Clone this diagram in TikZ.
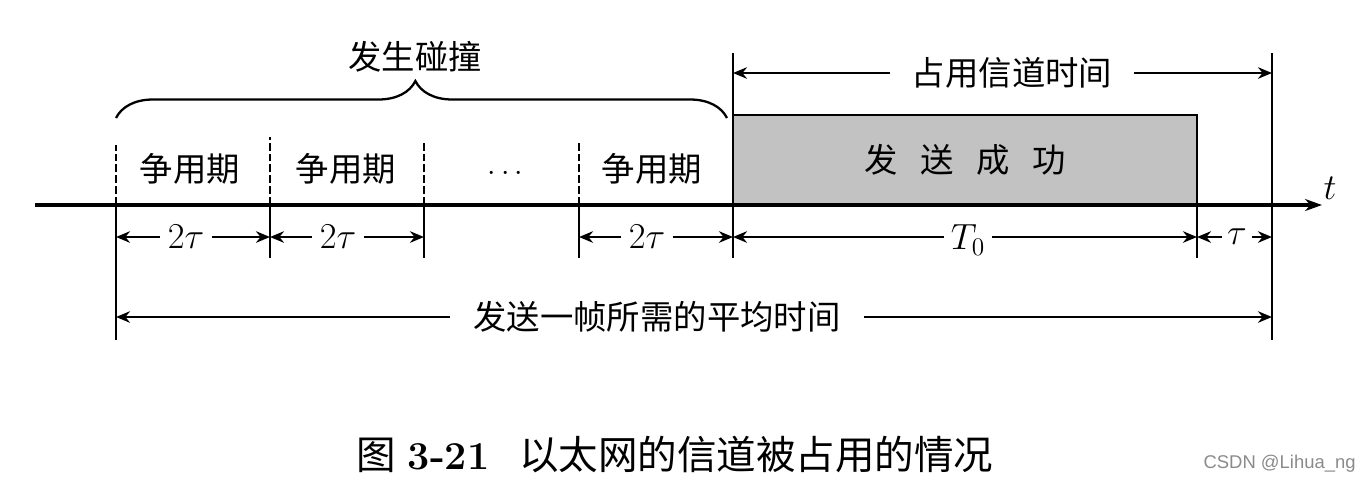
\documentclass[tikz,border=0pt]{standalone}
\usepackage{amsmath,amssymb}
\usepackage{xcolor}
\usepackage{fontspec}
\usepackage{tikz}
\usetikzlibrary{calc,arrows.meta,positioning,decorations.pathreplacing}
\newfontfamily\cjk{Noto Sans CJK SC}
\newfontfamily\wmfont{Liberation Sans}
\definecolor{boxgray}{HTML}{C2C2C2}
\definecolor{markgray}{HTML}{8A8A8A}
\tikzset{
  ar/.style={-{Stealth[length=2.8mm,width=2.3mm]},line width=1.6pt},
  axisline/.style={-{Stealth[length=3.4mm,width=2.4mm]},line width=2pt},
  tickline/.style={line width=1.2pt},
  dashtick/.style={line width=1.2pt,dash pattern=on 4.5pt off 1.7pt},
  cn/.style={font=\cjk\fontsize{19}{22}\selectfont,inner sep=0pt},
  dimlbl/.style={font=\fontsize{20}{23}\selectfont,inner ysep=0pt,inner xsep=4pt},
  box/.style={draw,line width=1.2pt,fill=boxgray,minimum width=9.28cm,minimum height=1.8cm,inner sep=0pt,font=\cjk\fontsize{19}{22}\selectfont}
}
\begin{document}
\begin{tikzpicture}[x=0.02cm,y=-0.02cm]
\useasboundingbox (0,0) rectangle (1370,485);
% tick points on the axis
\foreach \n/\x in {a/116,b/270,c/424,d/579,e/733,f/1197,g/1272}{
  \coordinate (\n) at (\x,205);
}
\coordinate (ax0) at (35,205);
\coordinate (ax1) at (1322,205);
% successful frame
\node[box] (ok) at (965,160) {发\hspace{0.68em}送\hspace{0.68em}成\hspace{0.68em}功};
% vertical marks
\draw[dashtick] (a) -- ++(0,-60) (b) -- ++(0,-68) (c) -- ++(0,-62) (d) -- ++(0,-62);
\draw[tickline] (a) -- ++(0,135) (g) -- ++(0,135);
\draw[tickline] (b) -- ++(0,53) (c) -- ++(0,53) (d) -- ++(0,53) (f) -- ++(0,53);
\draw[tickline] (e) ++(0,-152) -- ++(0,205);
\draw[tickline] (g) ++(0,-152) -- (g);
\draw[axisline] (ax0) -- (ax1);
\node[font=\fontsize{20}{23}\selectfont] (tl) at (1330,188) {$t$};
% contention labels
\node[cn] (c1) at (190,169) {争用期};
\node[cn] (c2) at (346,169) {争用期};
\node[cn] (c3) at (652,169) {争用期};
\node[font=\fontsize{19}{22}\selectfont] (dots) at (508,174) {$\cdots$};
% collision brace
\coordinate (bl) at (116,118);
\coordinate (br) at (727,118);
\draw[line width=1.3pt,decorate,decoration={brace,amplitude=0.74cm,aspect=0.49}] (bl) -- (br);
\node[cn] (coll) at (415,57) {发生碰撞};
% dimension row
\node[dimlbl] (d1) at (186,237) {$2\tau$};
\node[dimlbl] (d2) at (338,237) {$2\tau$};
\node[dimlbl] (d3) at (647,237) {$2\tau$};
\node[dimlbl] (d4) at (968,240) {$T_0$};
\node[dimlbl,inner xsep=3pt] (d5) at (1237,237) {$\tau$};
\draw[ar] (d1) -- (a |- d1);
\draw[ar] (d1) -- (b |- d1);
\draw[ar] (d2) -- (b |- d2);
\draw[ar] (d2) -- (c |- d2);
\draw[ar] (d3) -- (d |- d3);
\draw[ar] (d3) -- (e |- d3);
\draw[ar] (d4.west |- d1) -- (e |- d1);
\draw[ar] (d4.east |- d1) -- (f |- d1);
\draw[ar] (d5) -- (f |- d5);
\draw[ar] (d5) -- (g |- d5);
% channel occupied
\node[cn,inner xsep=12pt] (occ) at (1012,73) {占用信道时间};
\draw[ar] (occ) -- (e |- occ);
\draw[ar] (occ) -- (g |- occ);
% average time per frame
\node[cn,inner xsep=13pt] (avg) at (657,317) {发送一帧所需的平均时间};
\draw[ar] (avg) -- (a |- avg);
\draw[ar] (avg) -- (g |- avg);
% caption
\node[anchor=west,inner sep=0pt,font=\fontsize{22.5}{26}\selectfont] (cap) at (356,455)
  {{\cjk 图} \textbf{3-21}\hspace{0.75em}{\cjk 以太网的信道被占用的情况}};
\node[anchor=east,inner sep=0pt,text=markgray,font=\wmfont\fontsize{10.5}{12}\selectfont] (wm) at (1356,464) {CSDN @Lihua\_ng};
\end{tikzpicture}
\end{document}
